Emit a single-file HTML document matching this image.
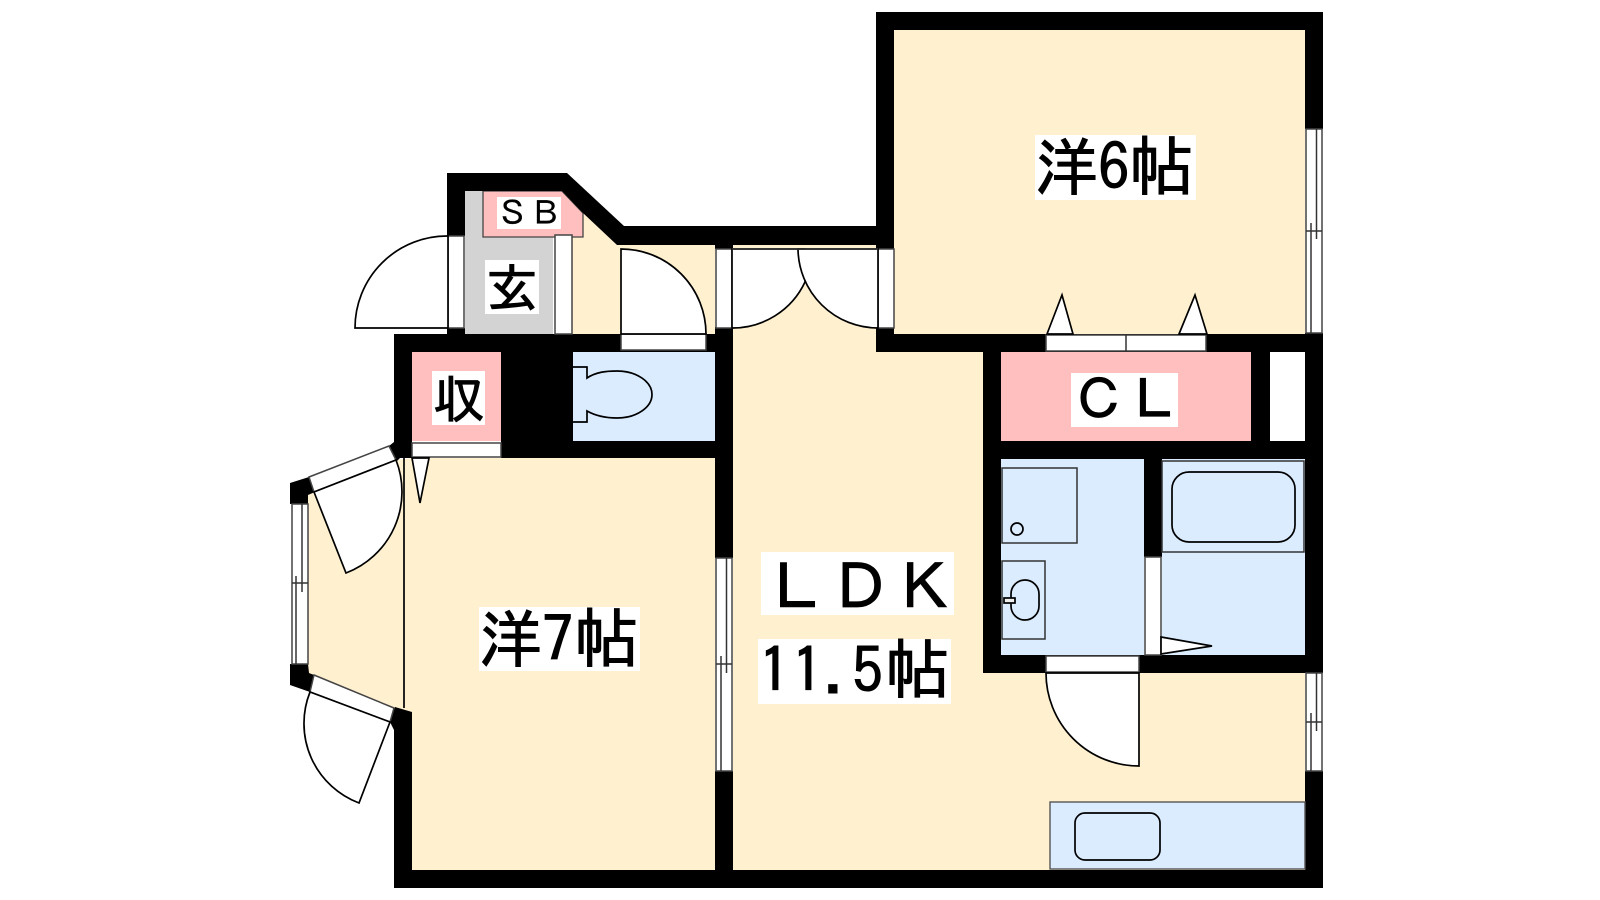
<!DOCTYPE html>
<html lang="ja"><head><meta charset="utf-8"><title>Floor plan</title>
<style>html,body{margin:0;padding:0;background:#fff}svg{display:block}
text{font-family:"IPAGothic","Noto Sans CJK JP",sans-serif;fill:#000;stroke:#000;stroke-width:1}
.k{fill:#000;stroke:none}.b{fill:#FFF1D0}.u{fill:#DBECFF}.p{fill:#FFBFBF}.w{fill:#fff}
.f{fill:#fff;stroke:#444;stroke-width:1.5}.l{fill:none;stroke:#333;stroke-width:1.5}
.d{fill:#fff;stroke:#000;stroke-width:1.7}.o{fill:none;stroke:#000;stroke-width:1.7}</style></head>
<body><svg width="1600" height="900" viewBox="0 0 1600 900" xmlns="http://www.w3.org/2000/svg">
<rect width="1600" height="900" fill="#fff"/>
<!-- floors -->
<g class="b">
<rect x="894" y="30" width="411" height="304"/>
<rect x="733" y="245" width="143" height="107"/>
<rect x="733" y="352" width="250" height="518"/>
<rect x="983" y="673" width="322" height="197"/>
<rect x="412" y="458" width="303" height="412"/>
<polygon points="308,495 315,492 396,460 412,458 412,712 394,708 314,675 308,673"/>
<polygon points="572,237 583,237 583,213 617,245 715,245 715,334 572,334"/>
</g>
<rect x="465" y="191" width="88" height="143" fill="#D3D3D3"/>
<rect class="u" x="573" y="352" width="142" height="89"/>
<rect class="u" x="1001" y="459" width="143" height="196"/>
<rect class="u" x="1162" y="459" width="143" height="196"/>
<rect class="p" x="412" y="352" width="89" height="89"/>
<rect class="p" x="1001" y="352" width="250" height="89"/>
<rect class="w" x="1270" y="352" width="35" height="89"/>
<polygon class="p" points="483,191 562,191 583,213 583,237 483,237" stroke="#444" stroke-width="1.3"/>
<!-- walls -->
<g class="k">
<polygon points="447,173 567,173 624,226 876,226 876,245 617,245 583,213 562,191 465,191 465,236 447,236"/>
<rect x="715" y="245" width="18" height="4"/>
<rect x="876" y="12" width="18" height="237"/>
<rect x="876" y="12" width="447" height="18"/>
<rect x="1305" y="12" width="18" height="117"/>
<rect x="1305" y="333" width="18" height="340"/>
<rect x="1305" y="771" width="18" height="117"/>
<rect x="876" y="328" width="18" height="24"/>
<rect x="876" y="334" width="447" height="18"/>
<rect x="394" y="334" width="339" height="18"/>
<rect x="715" y="327" width="18" height="25"/>
<rect x="447" y="328" width="18" height="6"/>
<rect x="394" y="334" width="18" height="124"/>
<polygon points="394,442 400,442 400,458 396,462 389,446"/>
<rect x="501" y="352" width="72" height="106"/>
<rect x="501" y="441" width="232" height="17"/>
<rect x="715" y="352" width="18" height="206"/>
<rect x="715" y="771" width="18" height="99"/>
<rect x="983" y="352" width="18" height="321"/>
<rect x="983" y="441" width="340" height="18"/>
<rect x="1251" y="352" width="19" height="89"/>
<rect x="1144" y="459" width="18" height="98"/>
<rect x="983" y="655" width="340" height="18"/>
<rect x="394" y="870" width="929" height="18"/>
<rect x="394" y="712" width="18" height="158"/>
<polygon points="395,707 412,712 412,730 394,730 390,722"/>
<polygon points="290,483 309,477 315,492 308,495 308,504 290,504"/>
<polygon points="290,664 308,664 309,673 314,675 310,692 290,685"/>
</g>
<!-- window frames / door strips -->
<rect class="f" x="448" y="236" width="16" height="92"/>
<rect class="f" x="555" y="235" width="17" height="99"/>
<rect class="f" x="621" y="334" width="85" height="16"/>
<rect class="f" x="412" y="443" width="89" height="14"/>
<rect class="f" x="716" y="249" width="16" height="79"/>
<rect class="f" x="878" y="249" width="16" height="79"/>
<rect class="f" x="1046" y="335" width="160" height="16"/>
<line class="l" x1="1126" y1="335" x2="1126" y2="351"/>
<rect class="f" x="1145" y="557" width="16" height="98"/>
<rect class="f" x="1046" y="656" width="93" height="16"/>
<!-- sliding windows -->
<g>
<rect class="f" x="1306" y="129" width="16" height="204"/>
<path class="l" d="M1306 231H1322M1316.5 129V239M1311 223V333"/>
<rect class="f" x="1306" y="673" width="16" height="98"/>
<path class="l" d="M1306 722H1322M1316.5 673V731M1311 713V771"/>
<rect class="f" x="716" y="558" width="16" height="213"/>
<path class="l" d="M716 664H732M726.5 558V673M721 656V771"/>
<rect class="f" x="292" y="504" width="16" height="160"/>
<path class="l" d="M292 583H308M302 504V592M296 576V664"/>
</g>
<polygon class="f" points="309,477 389,446 396,460 314,492" stroke="#111"/>
<polygon class="f" points="314,675 394,708 390,722 310,692" stroke="#111"/>
<line class="o" x1="404" y1="458" x2="404" y2="708"/>
<!-- doors -->
<path class="d" d="M448 236A92 92 0 0 0 355 328H448Z"/>
<path class="d" d="M621 334V249A85 85 0 0 1 706 334Z"/>
<path class="d" d="M732 249H805V282A80 80 0 0 1 732 328Z"/>
<path class="d" d="M798 249H878V328A80 80 0 0 1 798 249Z"/>
<line class="l" x1="732" y1="249" x2="878" y2="249"/>
<path class="d" d="M1046 673H1139V766A93 93 0 0 1 1046 673Z"/>
<path class="d" d="M314 492L346 573A87 87 0 0 0 396 460Z"/>
<path class="d" d="M390 722L359 803A85 85 0 0 1 310 692Z"/>
<polygon class="d" points="412,458 429,458 420,503"/>
<polygon class="d" points="1047,334 1062,295 1073,334"/>
<polygon class="d" points="1179,334 1195,295 1207,334"/>
<polygon class="d" points="1161,637 1212,646 1161,654"/>
<!-- fixtures -->
<path class="d" style="fill:#DBECFF" d="M573 367H587V378C596 372 606 371 617 371C637 371 652 382 652 394.500C652 407 637 418 617 418C606 418 596 416 587 411V422H573"/>
<rect class="l" x="1162" y="461" width="142" height="91"/>
<rect class="o" x="1172" y="472" width="123" height="70" rx="17"/>
<rect class="l" x="1002" y="468" width="75" height="75"/>
<circle class="o" cx="1017" cy="529" r="6"/>
<rect class="l" x="1002" y="561" width="43" height="78"/>
<rect class="o" x="1011" y="580" width="28" height="40" rx="14"/>
<rect class="o" x="1004" y="598" width="11" height="5" style="fill:#eee"/>
<rect x="1050" y="802" width="255" height="67" fill="#DBECFF" stroke="#555" stroke-width="1.4"/>
<rect class="o" x="1075" y="813" width="85" height="47" rx="10"/>
<!-- labels -->
<g class="w">
<rect x="497" y="197" width="64" height="32"/>
<rect x="485" y="260" width="54" height="54"/>
<rect x="432" y="371" width="53" height="54"/>
<rect x="1071" y="373" width="107" height="54"/>
<rect x="1035" y="135" width="161" height="65"/>
<rect x="761" y="552" width="193" height="63"/>
<rect x="758" y="639" width="193" height="65"/>
<rect x="479" y="607" width="161" height="64"/>
</g>
<text x="496" y="225" font-size="33" style="stroke-width:.3">ＳＢ</text>
<text x="486" y="307" font-size="52">玄</text>
<text x="433" y="418" font-size="52">収</text>
<text x="1072 1127" y="419" font-size="54">ＣＬ</text>
<text x="1035" y="190" font-size="63">洋</text><text x="1098" y="190" font-size="63">6</text><text x="1129" y="190" font-size="65">帖</text>
<text x="479" y="662" font-size="63">洋</text><text x="542" y="662" font-size="63">7</text><text x="574" y="662" font-size="65">帖</text>
<text x="765 829 893" y="610" font-size="63">ＬＤＫ</text>
<text x="759" y="693" font-size="62">1</text><text x="792" y="693" font-size="62">1</text><text x="823" y="693" font-size="62">.</text><text x="852" y="693" font-size="62">5</text><text x="885" y="693" font-size="65">帖</text>
</svg></body></html>
